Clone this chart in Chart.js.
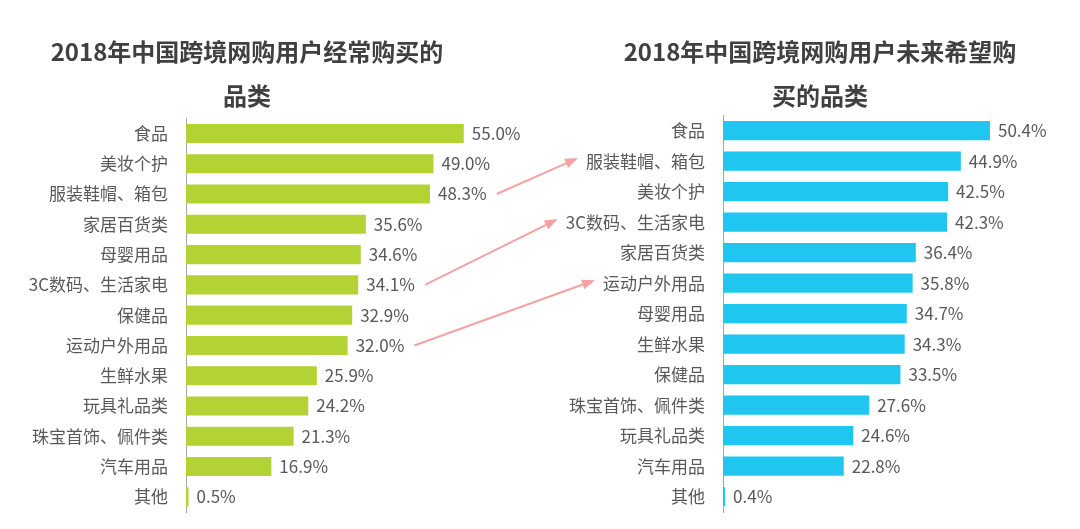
<!DOCTYPE html>
<html lang="zh">
<head>
    <meta charset="UTF-8">
    <title>2018年中国跨境网购用户品类</title>
    <script src="https://cdn.jsdelivr.net/npm/chart.js"></script>
    <style>
        * {
            margin: 0;
            padding: 0;
            box-sizing: border-box;
        }
        body {
            width: 1080px;
            height: 529px;
            position: relative;
            overflow: hidden;
            background-color: #ffffff;
        }
        canvas {
            position: absolute;
            top: 0;
        }
        #leftChart { left: -40px; }
        #rightChart { left: 560px; }
        #arrows { left: 0; pointer-events: none; }
    </style>
</head>
<body>
    <canvas id="leftChart" width="574" height="529"></canvas>
    <canvas id="rightChart" width="520" height="529"></canvas>
    <canvas id="arrows" width="1080" height="529"></canvas>

    <script>
        const leftTitle = ['2018年中国跨境网购用户经常购买的', '品类'];
        const leftCategories = ['食品', '美妆个护', '服装鞋帽、箱包', '家居百货类', '母婴用品', '3C数码、生活家电', '保健品', '运动户外用品', '生鲜水果', '玩具礼品类', '珠宝首饰、佩件类', '汽车用品', '其他'];
        const leftValues = [55.0, 49.0, 48.3, 35.6, 34.6, 34.1, 32.9, 32.0, 25.9, 24.2, 21.3, 16.9, 0.5];

        const rightTitle = ['2018年中国跨境网购用户未来希望购', '买的品类'];
        const rightCategories = ['食品', '服装鞋帽、箱包', '美妆个护', '3C数码、生活家电', '家居百货类', '运动户外用品', '母婴用品', '生鲜水果', '保健品', '珠宝首饰、佩件类', '玩具礼品类', '汽车用品', '其他'];
        const rightValues = [50.4, 44.9, 42.5, 42.3, 36.4, 35.8, 34.7, 34.3, 33.5, 27.6, 24.6, 22.8, 0.4];

        // categories that moved up, arrow goes from left row to right row
        const arrowLinks = ['服装鞋帽、箱包', '3C数码、生活家电', '运动户外用品'];

        const FONT = "'Noto Sans CJK SC', 'Noto Sans', sans-serif";
        const TEXT_COLOR = '#595959';
        const LABEL_PAD = 18;
        const VALUE_GAP = 8;

        const valueLabels = {
            id: 'valueLabels',
            afterDatasetsDraw(chart) {
                const ctx = chart.ctx;
                const meta = chart.getDatasetMeta(0);
                const values = chart.data.datasets[0].data;
                ctx.save();
                ctx.font = '17px ' + FONT;
                ctx.fillStyle = TEXT_COLOR;
                ctx.textAlign = 'left';
                ctx.textBaseline = 'middle';
                meta.data.forEach((bar, i) => {
                    ctx.fillText(values[i].toFixed(1) + '%', bar.x + VALUE_GAP, bar.y);
                });
                ctx.restore();
            }
        };

        function makeChart(id, title, categories, values, color, opts) {
            return new Chart(document.getElementById(id), {
                type: 'bar',
                data: {
                    labels: categories,
                    datasets: [{
                        data: values,
                        backgroundColor: color,
                        categoryPercentage: 1,
                        barPercentage: 0.63
                    }]
                },
                options: {
                    indexAxis: 'y',
                    responsive: false,
                    animation: false,
                    layout: {
                        padding: { left: 0, right: 0, top: 0, bottom: 17 }
                    },
                    scales: {
                        x: {
                            display: false,
                            min: 0,
                            max: opts.xMax
                        },
                        y: {
                            grid: { display: false, drawTicks: false },
                            border: { display: true, color: '#a6a6a6', width: 1 },
                            ticks: {
                                color: TEXT_COLOR,
                                padding: LABEL_PAD,
                                font: { family: FONT, size: 17 }
                            },
                            afterFit: function(scale) {
                                scale.width = opts.axisWidth;
                                scale.paddingTop = 0;
                                scale.paddingBottom = 0;
                            }
                        }
                    },
                    plugins: {
                        legend: { display: false },
                        tooltip: { enabled: false },
                        title: {
                            display: true,
                            text: title,
                            color: '#404040',
                            font: { family: FONT, size: 24, weight: 'bold', lineHeight: 1.84 },
                            padding: { top: 30, bottom: opts.titleBottom }
                        }
                    }
                },
                plugins: [valueLabels]
            });
        }

        const leftChart = makeChart('leftChart', leftTitle, leftCategories, leftValues, '#b3d334',
            { xMax: 68.9, axisWidth: 226, titleBottom: 0 });
        const rightChart = makeChart('rightChart', rightTitle, rightCategories, rightValues, '#1fc6f0',
            { xMax: 67.4, axisWidth: 163, titleBottom: -3 });

        function drawArrows() {
            const ctx = document.getElementById('arrows').getContext('2d');
            const leftOffset = leftChart.canvas.offsetLeft;
            const rightOffset = rightChart.canvas.offsetLeft;
            const leftMeta = leftChart.getDatasetMeta(0);
            const rightY = rightChart.scales.y;

            ctx.strokeStyle = '#f4a2a2';
            ctx.fillStyle = '#f4a2a2';
            ctx.lineWidth = 2;

            arrowLinks.forEach(name => {
                const li = leftCategories.indexOf(name);
                const ri = rightCategories.indexOf(name);

                ctx.font = '17px ' + FONT;
                const valueText = leftValues[li].toFixed(1) + '%';
                const bar = leftMeta.data[li];
                const x0 = leftOffset + bar.x + VALUE_GAP + ctx.measureText(valueText).width + 10;
                const y0 = bar.y;

                const labelW = ctx.measureText(name).width;
                const x1 = rightOffset + rightChart.chartArea.left - LABEL_PAD - labelW - 8;
                const y1 = rightY.getPixelForValue(ri) - 3;

                const ang = Math.atan2(y1 - y0, x1 - x0);
                const head = 13;
                const bx = x1 - head * Math.cos(ang);
                const by = y1 - head * Math.sin(ang);

                ctx.beginPath();
                ctx.moveTo(x0, y0);
                ctx.lineTo(bx, by);
                ctx.stroke();

                ctx.beginPath();
                ctx.moveTo(x1, y1);
                ctx.lineTo(bx + 5 * Math.sin(ang), by - 5 * Math.cos(ang));
                ctx.lineTo(bx - 5 * Math.sin(ang), by + 5 * Math.cos(ang));
                ctx.closePath();
                ctx.fill();
            });
        }

        drawArrows();
    </script>
</body>
</html>
